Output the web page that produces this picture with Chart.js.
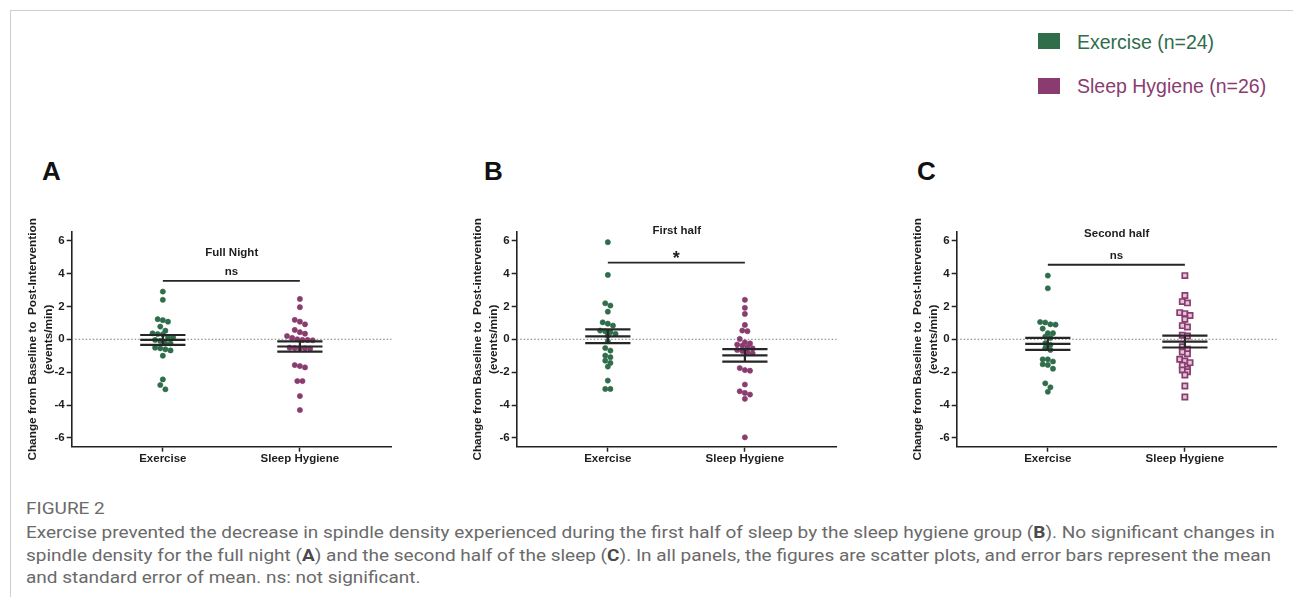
<!DOCTYPE html>
<html>
<head>
<meta charset="utf-8">
<script src="https://cdn.jsdelivr.net/npm/chart.js@4.4.1/dist/chart.umd.min.js"></script>
<style>
  html,body{margin:0;padding:0;background:#fff;}
  body{width:1293px;height:597px;overflow:hidden;position:relative;font-family:"Liberation Sans",Arial,sans-serif;}
  #frame{position:absolute;left:10px;top:10px;right:0;bottom:0;border-left:1px solid #cfcfcf;border-top:1px solid #cfcfcf;}
  canvas.pc{position:absolute;top:195px;}
  .letter{position:absolute;top:157px;font:bold 26px "Liberation Sans",Arial,sans-serif;color:#111;line-height:28px;}
  .lg-sq{position:absolute;left:1038px;width:22px;height:16px;}
  .lg-tx{position:absolute;left:1077px;font:19.5px "Liberation Sans",Arial,sans-serif;line-height:22px;white-space:nowrap;}
  .cap{position:absolute;left:26px;white-space:nowrap;font:17px Roboto,"Liberation Sans",sans-serif;color:#6a6a6a;transform-origin:0 50%;line-height:20px;}
  .cap b{color:#4a4a4a;}
</style>
</head>
<body>
<div id="frame"></div>

<div class="lg-sq" id="sq0" style="top:33px;"></div>
<div class="lg-tx" id="lt0" style="top:30.5px;"></div>
<div class="lg-sq" id="sq1" style="top:77.5px;height:16.5px;"></div>
<div class="lg-tx" id="lt1" style="top:74.5px;"></div>

<div class="letter" style="left:42px;">A</div>
<div class="letter" style="left:484px;">B</div>
<div class="letter" style="left:917px;">C</div>

<canvas class="pc" id="cA" width="386" height="285" style="left:14px;"></canvas>
<canvas class="pc" id="cB" width="386" height="285" style="left:459px;"></canvas>
<canvas class="pc" id="cC" width="386" height="285" style="left:899px;"></canvas>

<div class="cap" id="cap0" style="top:498px;">FIGURE 2</div>
<div class="cap" id="cap1" style="top:522px;">Exercise prevented the decrease in spindle density experienced during the first half of sleep by the sleep hygiene group (<b>B</b>). No significant changes in</div>
<div class="cap" id="cap2" style="top:544.5px;">spindle density for the full night (<b>A</b>) and the second half of the sleep (<b>C</b>). In all panels, the figures are scatter plots, and error bars represent the mean</div>
<div class="cap" id="cap3" style="top:567px;">and standard error of mean. ns: not significant.</div>

<script>
// ---------------- DATA ----------------
const categories = ["Exercise", "Sleep Hygiene"];
const legendLabels = ["Exercise (n=24)", "Sleep Hygiene (n=26)"];
const panelTitles = ["Full Night", "First half", "Second half"];
const yTitles = [
  ["Change from Baseline to  Post-Intervention", "(events/min)"],
  ["Change from Baseline to  Post-intervention", "(events/min)"],
  ["Change from Baseline to  Post-Intervention", "(events/min)"]
];
const yTickValues = [-6, -4, -2, 0, 2, 4, 6];
const sigLabels = ["ns", "*", "ns"];

const exerciseFull = [2.90, 2.40, 1.22, 1.16, 1.07, 0.77, 0.52, 0.36, 0.32, 0.30, 0.12, 0.12,
  -0.04, -0.10, -0.25, -0.25, -0.51, -0.55, -0.61, -0.68, -1.00, -2.44, -2.78, -3.04];
const hygieneFull = [2.45, 1.95, 1.18, 1.07, 0.91, 0.57, 0.43, 0.34, 0.20, 0.08, 0.00, -0.04, -0.04,
  -0.06, -0.51, -0.53, -0.55, -0.55, -0.57, -1.57, -1.63, -1.71, -2.54, -2.54, -3.45, -4.30];

const exerciseFirst = [5.90, 3.91, 2.19, 2.05, 1.68, 1.03, 0.95, 0.83, 0.53, 0.48, 0.43, 0.33,
  0.22, -0.12, -0.53, -0.69, -0.99, -1.09, -1.30, -1.44, -1.66, -2.51, -3.02, -3.02];
const hygieneFirst = [2.40, 1.91, 1.54, 0.87, 0.53, 0.49, 0.02, -0.18, -0.25, -0.32, -0.38, -0.48, -0.55,
  -0.65, -0.72, -0.79, -0.85, -1.75, -1.87, -1.91, -2.75, -3.16, -3.26, -3.36, -3.62, -5.96];

const exerciseSecond = [3.87, 3.10, 1.05, 1.02, 0.91, 0.89, 0.65, 0.37, 0.37, 0.16, 0.08, -0.24,
  -0.34, -0.54, -0.65, -1.22, -1.22, -1.35, -1.52, -1.56, -1.79, -2.68, -2.92, -3.19];
const hygieneSecond = [3.87, 2.66, 2.29, 2.21, 1.62, 1.56, 1.44, 1.22, 0.83, 0.75, 0.24, 0.20, -0.45,
  -0.61, -0.77, -0.88, -1.22, -1.32, -1.42, -1.58, -1.83, -1.87, -1.97, -2.17, -2.84, -3.51];

const exerciseMean = [-0.04, 0.18, -0.28];
const exerciseSem  = [0.30, 0.42, 0.37];
const hygieneMean  = [-0.44, -0.98, -0.14];
const hygieneSem   = [0.31, 0.38, 0.36];

// ---------------- STYLE / LAYOUT ----------------
const GREEN = "#2f6d4b", PURPLE = "#8a3c70", INK = "#1e1e1e";
const FONT = '"Liberation Sans", Arial, sans-serif';
const xMin = 0.335, xMax = 2.67, yMin = -6.53, yMax = 6.52;
const swarmStep = 0.0375, rowGap = 0.29, barHalf = 0.165;

document.getElementById('sq0').style.background = GREEN;
document.getElementById('sq1').style.background = PURPLE;
const lt0 = document.getElementById('lt0'); lt0.textContent = legendLabels[0]; lt0.style.color = GREEN;
const lt1 = document.getElementById('lt1'); lt1.textContent = legendLabels[1]; lt1.style.color = PURPLE;

// caption fitting: scale to the width of the first text line
(function(){
  const l1 = document.getElementById('cap1');
  const s = (1275 - 26) / l1.scrollWidth;
  ['cap0','cap1','cap2','cap3'].forEach(id => {
    document.getElementById(id).style.transform = 'scaleX(' + s + ')';
  });
})();

function swarm(values, center) {
  const sorted = values.slice().sort((a, b) => b - a);
  const rows = []; let cur = [];
  for (const v of sorted) {
    if (cur.length && (cur[0] - v) >= rowGap) { rows.push(cur); cur = []; }
    cur.push(v);
  }
  if (cur.length) rows.push(cur);
  const pts = [];
  rows.forEach(r => r.forEach((v, k) => pts.push({ x: center + (k - (r.length - 1) / 2) * swarmStep, y: v })));
  return pts;
}

function errorBar(c, m, s) {
  return [
    { x: c - barHalf, y: m + s }, { x: c + barHalf, y: m + s }, { x: c, y: null },
    { x: c - barHalf, y: m }, { x: c + barHalf, y: m }, { x: c, y: null },
    { x: c - barHalf, y: m - s }, { x: c + barHalf, y: m - s }, { x: c, y: null },
    { x: c, y: m + s }, { x: c, y: m - s }
  ];
}

const annotate = {
  id: 'annotate',
  afterDatasetsDraw(chart, args, o) {
    const { ctx, chartArea, scales } = chart;
    const y = scales.y, x = scales.x;
    ctx.save();
    ctx.fillStyle = INK;
    ctx.textAlign = 'center';
    ctx.textBaseline = 'alphabetic';
    let fs = 11.5;
    ctx.font = 'bold ' + fs + 'px ' + FONT;
    ctx.fillText(o.title, (chartArea.left + chartArea.right) / 2, y.getPixelForValue(o.titleLevel) + 0.36 * fs);
    if (o.sig === '*') {
      fs = 18;
      ctx.font = 'bold ' + fs + 'px ' + FONT;
      ctx.fillText(o.sig, x.getPixelForValue(1.5), y.getPixelForValue(o.sigLabelLevel) + 0.57 * fs);
    } else {
      ctx.fillText(o.sig, x.getPixelForValue(1.5), y.getPixelForValue(o.sigLabelLevel) + 0.27 * fs);
    }
    ctx.restore();
  }
};

const panels = [
  { id: 'cA', ex: exerciseFull,   sh: hygieneFull,   square: false, titleLevel: 5.34, sigLevel: 3.55, sigLabelLevel: 4.08 },
  { id: 'cB', ex: exerciseFirst,  sh: hygieneFirst,  square: false, titleLevel: 6.65, sigLevel: 4.66, sigLabelLevel: 5.19 },
  { id: 'cC', ex: exerciseSecond, sh: hygieneSecond, square: true,  titleLevel: 6.46, sigLevel: 4.53, sigLabelLevel: 5.08 }
];

const Y_AXIS_W = 57.7, X_AXIS_H = 33.3, PAD_TOP = 37;

panels.forEach((p, k) => {
  const canvas = document.getElementById(p.id);
  const lineDefaults = { showLine: true, pointRadius: 0, borderCapStyle: 'butt', spanGaps: false, fill: false };
  new Chart(canvas, {
    type: 'scatter',
    data: {
      datasets: [
        Object.assign({ data: errorBar(1, exerciseMean[k], exerciseSem[k]), borderColor: '#262626', borderWidth: 2.2, order: 0 }, lineDefaults),
        Object.assign({ data: errorBar(2, hygieneMean[k], hygieneSem[k]), borderColor: '#262626', borderWidth: 2.2, order: 0 }, lineDefaults),
        Object.assign({ data: [{ x: 1, y: p.sigLevel }, { x: 2, y: p.sigLevel }], borderColor: '#262626', borderWidth: 1.8, order: 0 }, lineDefaults),
        { data: swarm(p.ex, 1), pointRadius: 2.6, pointBackgroundColor: GREEN, pointBorderColor: GREEN, pointBorderWidth: 0.6, order: 1 },
        p.square
          ? { data: swarm(p.sh, 2), pointStyle: 'rect', pointRadius: 3.7, pointBackgroundColor: '#e2c6d8', pointBorderColor: PURPLE, pointBorderWidth: 1.7, order: 1 }
          : { data: swarm(p.sh, 2), pointRadius: 2.6, pointBackgroundColor: PURPLE, pointBorderColor: PURPLE, pointBorderWidth: 0.6, order: 1 },
        Object.assign({ data: [{ x: xMin, y: 0 }, { x: xMax, y: 0 }], borderColor: '#7a7a7a', borderWidth: 1, borderDash: [1.5, 2], order: 2 }, lineDefaults)
      ]
    },
    options: {
      responsive: false,
      animation: false,
      events: [],
      devicePixelRatio: 1,
      layout: { padding: { top: PAD_TOP, right: canvas.width - Y_AXIS_W - 320, left: 0, bottom: 0 } },
      plugins: {
        legend: { display: false },
        tooltip: { enabled: false },
        annotate: { title: panelTitles[k], titleLevel: p.titleLevel, sig: sigLabels[k], sigLabelLevel: p.sigLabelLevel }
      },
      scales: {
        x: {
          type: 'linear', min: xMin, max: xMax,
          afterBuildTicks: s => { s.ticks = [1, 2].map(v => ({ value: v })); },
          afterFit: s => { s.height = X_AXIS_H; },
          ticks: {
            callback: v => categories[v - 1],
            autoSkip: false, maxRotation: 0, padding: 0,
            color: INK, font: { family: FONT, size: 11.5, weight: 'bold' }
          },
          grid: { drawOnChartArea: false, drawTicks: true, tickLength: 5, tickColor: '#222', tickWidth: 1.5, color: '#222' },
          border: { display: true, color: '#222', width: 1.6 }
        },
        y: {
          type: 'linear', min: yMin, max: yMax,
          afterBuildTicks: s => { s.ticks = yTickValues.map(v => ({ value: v })); },
          afterFit: s => { s.width = Y_AXIS_W; },
          ticks: { padding: 2, color: INK, font: { family: FONT, size: 11.5, weight: 'bold' } },
          grid: { drawOnChartArea: false, drawTicks: true, tickLength: 5, tickColor: '#222', tickWidth: 1.5, color: '#222' },
          border: { display: true, color: '#222', width: 1.6 },
          title: {
            display: true, text: yTitles[k], color: INK,
            font: { family: FONT, size: 11.8, weight: 'bold', lineHeight: 1.32 },
            padding: { top: 10.9, bottom: 0 }
          }
        }
      }
    },
    plugins: [annotate]
  });
});
</script>
</body>
</html>
